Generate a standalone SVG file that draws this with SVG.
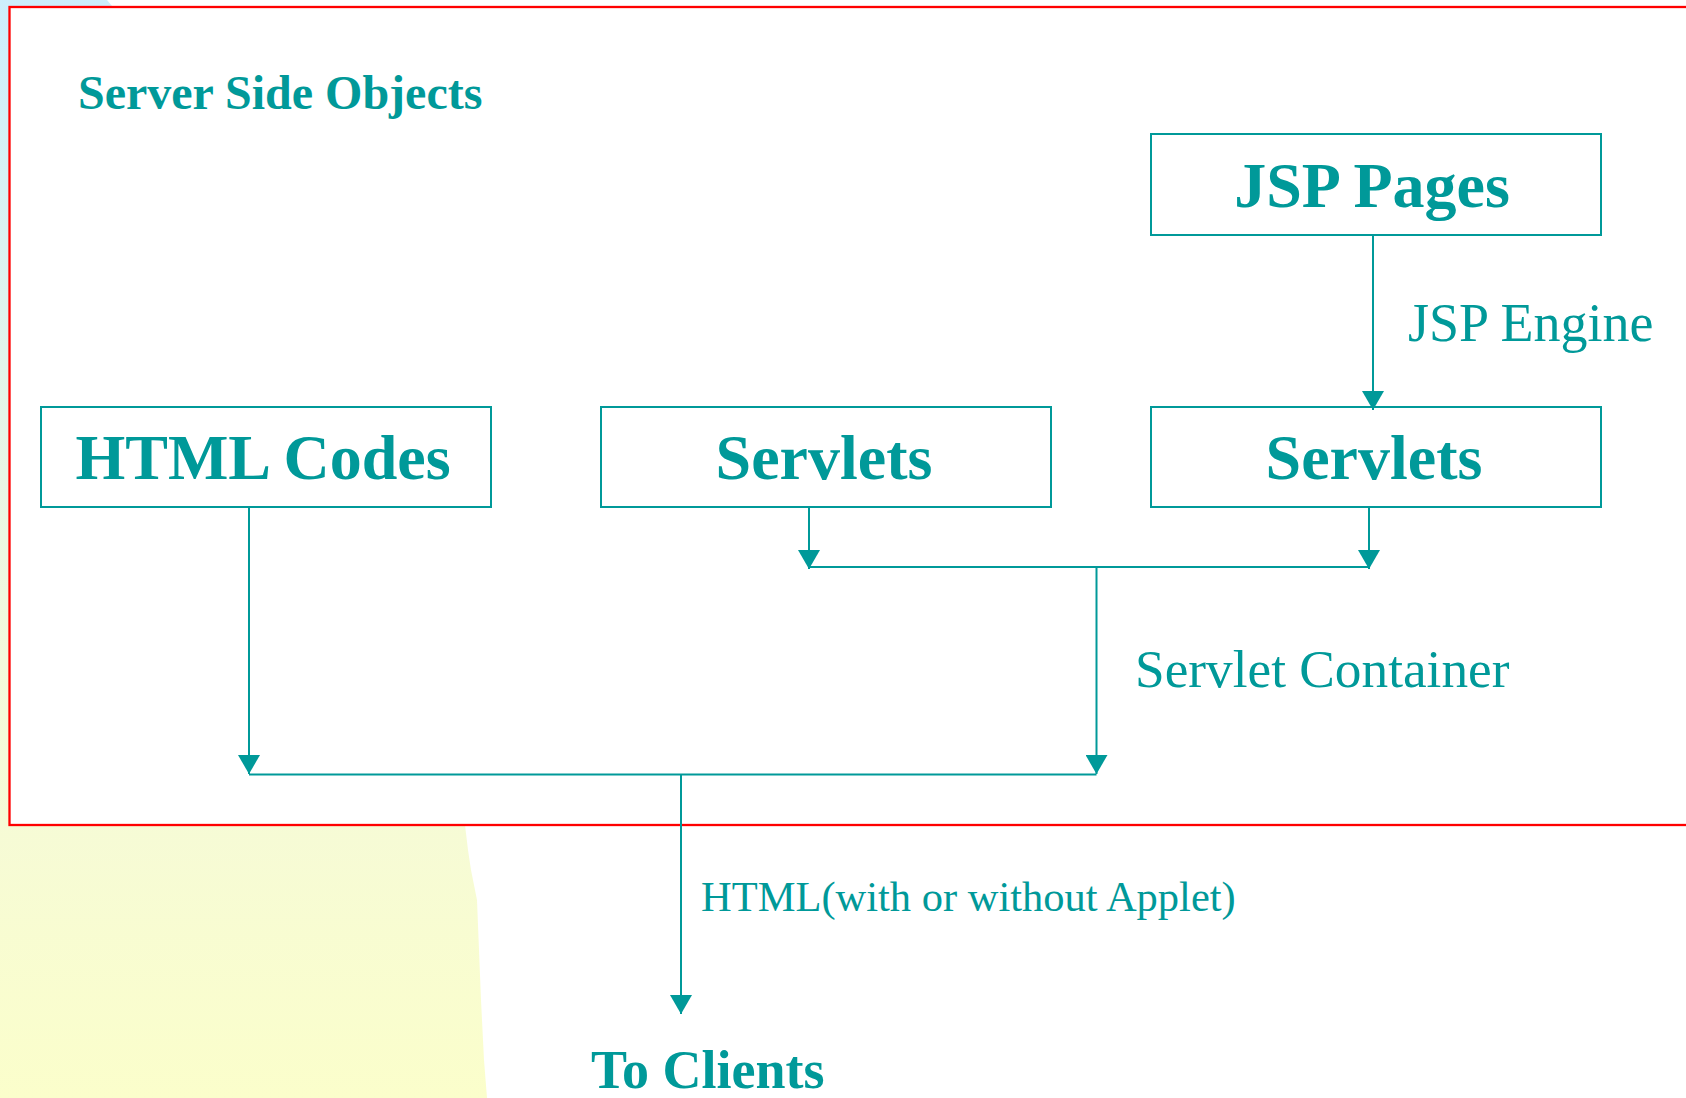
<svg xmlns="http://www.w3.org/2000/svg" width="1686" height="1098" viewBox="0 0 1686 1098">
<defs>
<linearGradient id="bg" x1="0" y1="0" x2="0" y2="1">
<stop offset="0" stop-color="#cdeefc"/>
<stop offset="0.6" stop-color="#f3f9dc"/>
<stop offset="1" stop-color="#fbfecb"/>
</linearGradient>
<marker id="ah" markerUnits="userSpaceOnUse" viewBox="0 0 19 22" refX="19" refY="11" markerWidth="19" markerHeight="22" orient="auto">
<path d="M0,0 L19,11 L0,22 Z" fill="#009999"/>
</marker>
<style>
.box{fill:#ffffff;stroke:#009999;stroke-width:2}
.lbl{font-family:"Liberation Serif","Times New Roman",serif;font-weight:bold;font-size:64px;fill:#009999;text-anchor:middle}
.txt{font-family:"Liberation Serif","Times New Roman",serif;fill:#009999}
.con{fill:none;stroke:#009999;stroke-width:2}
</style>
</defs>
<rect x="0" y="0" width="1686" height="1098" fill="#ffffff"/>
<path d="M0,0 L107,0 Q 430,380 465,825 L468,850 L471,870 L477,900 L479,950 L481,1000 L484,1060 L487,1098 L0,1098 Z" fill="url(#bg)"/>
<rect x="9.5" y="7" width="1700" height="818" fill="#ffffff" stroke="#ff0000" stroke-width="2.3"/>
<text class="txt" x="78" y="109" font-size="48" font-weight="bold">Server Side Objects</text>
<g id="jsp-pages">
<rect class="box" x="1151" y="134" width="450" height="101"/>
<text class="lbl" x="1372" y="207">JSP Pages</text>
</g>
<g id="html-codes">
<rect class="box" x="41" y="407" width="450" height="100"/>
<text class="lbl" x="263" y="478.5">HTML Codes</text>
</g>
<g id="servlets-mid">
<rect class="box" x="601" y="407" width="450" height="100"/>
<text class="lbl" x="824" y="479">Servlets</text>
</g>
<g id="servlets-right">
<rect class="box" x="1151" y="407" width="450" height="100"/>
<text class="lbl" x="1374" y="479">Servlets</text>
</g>
<g id="connectors">
<line class="con" x1="1373" y1="235" x2="1373" y2="410" marker-end="url(#ah)"/>
<line class="con" x1="809" y1="507" x2="809" y2="569" marker-end="url(#ah)"/>
<line class="con" x1="1369" y1="507" x2="1369" y2="569" marker-end="url(#ah)"/>
<line class="con" x1="809" y1="567" x2="1369" y2="567"/>
<line class="con" x1="1096.5" y1="567" x2="1096.5" y2="774" marker-end="url(#ah)"/>
<line class="con" x1="249" y1="507" x2="249" y2="774" marker-end="url(#ah)"/>
<line class="con" x1="249" y1="774.5" x2="1096.5" y2="774.5"/>
<line class="con" x1="681" y1="774.5" x2="681" y2="1014" marker-end="url(#ah)"/>
</g>
<text class="txt" x="1408" y="341" font-size="54">JSP Engine</text>
<text class="txt" x="1135" y="687" font-size="53.3">Servlet Container</text>
<text class="txt" x="701" y="911" font-size="42.5">HTML(with or without Applet)</text>
<text class="txt" x="591" y="1088" font-size="54" font-weight="bold">To Clients</text>
</svg>
